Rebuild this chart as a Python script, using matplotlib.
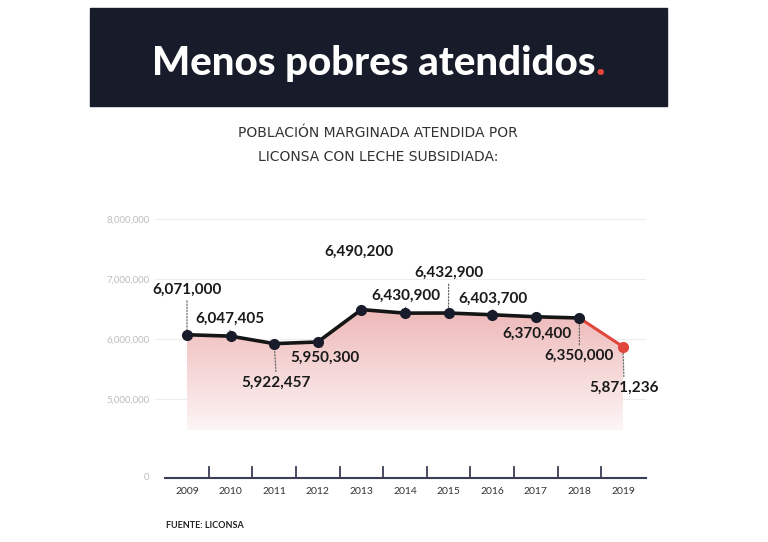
"""
Menos pobres atendidos - población atendida por Liconsa, 2009-2019
"""

import numpy as np
import matplotlib.pyplot as plt
import matplotlib.transforms as mtransforms
from matplotlib.colors import LinearSegmentedColormap
from matplotlib.patches import Rectangle

# --- DATA ---
years = [2009, 2010, 2011, 2012, 2013, 2014, 2015, 2016, 2017, 2018, 2019]
values = [6071000, 6047405, 5922457, 5950300, 6490200, 6430900,
          6432900, 6403700, 6370400, 6350000, 5871236]
grid_values = [5000000, 6000000, 7000000, 8000000]

# label offsets from the point, in pixels (dx, dy; positive dy = up)
label_offsets = [(0, 45), (-1, 17), (2, -39), (7, -16), (-2, 58), (1, 17),
                 (0, 40), (1, 16), (1, -17), (0, -38), (1, -41)]
dotted = [True, True, True, True, False, True, True, True, True, True, True]

NAVY = '#181c2a'
RED = '#e0463b'
FILL_BASE = 4480000
Y_MIN, Y_MAX = 3683000, 8150000
X_MIN, X_MAX = 2008.266, 2019.528

plt.rcParams['font.family'] = ['Lato', 'DejaVu Sans']

fig = plt.figure(figsize=(7.68, 5.42), dpi=100)
fig.patch.set_facecolor('white')

# --- HEADER ---
fig.patches.append(Rectangle((90 / 768, 1 - 106 / 542), 577 / 768, 98 / 542,
                             transform=fig.transFigure, color=NAVY, zorder=0))
title = fig.text(374 / 768, 1 - 75 / 542, 'Menos pobres atendidos', color='white',
                 fontsize=29, fontweight='black', ha='center', va='baseline')
fig.canvas.draw()
bb = title.get_window_extent()
# red full stop right after the title
fig.text(bb.x1 / 768, 1 - 75 / 542, '.', color=RED, fontsize=29,
         fontweight='black', ha='left', va='baseline')

fig.text(378 / 768, 1 - 133 / 542, 'POBLACIÓN MARGINADA ATENDIDA POR',
         ha='center', va='center', fontsize=10, color='#333333',
         family='DejaVu Sans')
fig.text(378 / 768, 1 - 157 / 542, 'LICONSA CON LECHE SUBSIDIADA:',
         ha='center', va='center', fontsize=10, color='#333333',
         family='DejaVu Sans')
fig.text(166 / 768, 1 - 525 / 542, 'FUENTE: LICONSA', ha='left', va='center',
         fontsize=6.5, fontweight='bold', color='#222222')

# --- CHART ---
ax = fig.add_axes([155 / 768, 1 - 478 / 542, 491 / 768, 268 / 542])
for s in ax.spines.values():
    s.set_visible(False)
ax.set_xticks([])
ax.set_yticks(grid_values)
ax.set_yticklabels([f'{v:,}' for v in grid_values])
ax.tick_params(axis='y', length=0, pad=4, labelsize=7, labelcolor='#bdbdbd')
for v in grid_values:
    ax.axhline(v, color='#ededed', lw=0.8, zorder=0)
ax.text(-9 / 491, 0, '0', transform=ax.transAxes, ha='center', va='center',
        fontsize=7, color='#bdbdbd')

# gradient fill under the line
x = np.array(years, dtype=float)
y = np.array(values, dtype=float)
poly, = ax.fill(np.concatenate([x, x[::-1]]),
                np.concatenate([y, np.full_like(y, FILL_BASE)]),
                facecolor='none', edgecolor='none')
cmap = LinearSegmentedColormap.from_list('pink', ['#fdf5f5', '#eeb8b8'])
grad = np.linspace(0, 1, 256).reshape(-1, 1)
img = ax.imshow(grad, cmap=cmap, aspect='auto', origin='lower',
                extent=[x.min(), x.max(), FILL_BASE, y.max()], zorder=1)
img.set_clip_path(poly)
ax.set_xlim(X_MIN, X_MAX)
ax.set_ylim(Y_MIN, Y_MAX)

# line and markers
ax.plot(x[:-1], y[:-1], color='#151515', lw=2.6, zorder=3, solid_capstyle='round')
ax.plot(x[-2:], y[-2:], color=RED, lw=2.2, zorder=3)
ax.plot(x[:-1], y[:-1], 'o', color=NAVY, ms=7, zorder=5)
ax.plot(x[-1:], y[-1:], 'o', color=RED, ms=7, zorder=5)

# value labels
for xi, yi, (dx, dy), dl in zip(years, values, label_offsets, dotted):
    arrow = None
    if dl:
        arrow = dict(arrowstyle='-', linestyle=(0, (1, 1.5)), color='#666666',
                     lw=0.9, shrinkA=1, shrinkB=0,
                     relpos=(0.5, 0.0) if dy > 0 else (0.5, 1.0))
    ax.annotate(f'{yi:,}', xy=(xi, yi), xytext=(dx, dy),
                textcoords='offset pixels', ha='center', va='center',
                fontsize=11, fontweight='bold', color='#1a1a1a',
                arrowprops=arrow, zorder=4)

# bottom axis with ticks between years
trans = mtransforms.blended_transform_factory(ax.transData, ax.transAxes)
ax.plot([2008.5, X_MAX], [0, 0], transform=trans, color='#3a3f55', lw=1.5,
        clip_on=False, zorder=2)
for yr in years[:-1]:
    ax.plot([yr + 0.5, yr + 0.5], [0, 11 / 268], transform=trans,
            color='#3a3f55', lw=1.3, clip_on=False, zorder=2)
for yr in years:
    ax.text(yr, -13 / 268, str(yr), transform=trans, ha='center', va='center',
            fontsize=7.5, color='#333333')

fig.savefig('out.png', dpi=100)
